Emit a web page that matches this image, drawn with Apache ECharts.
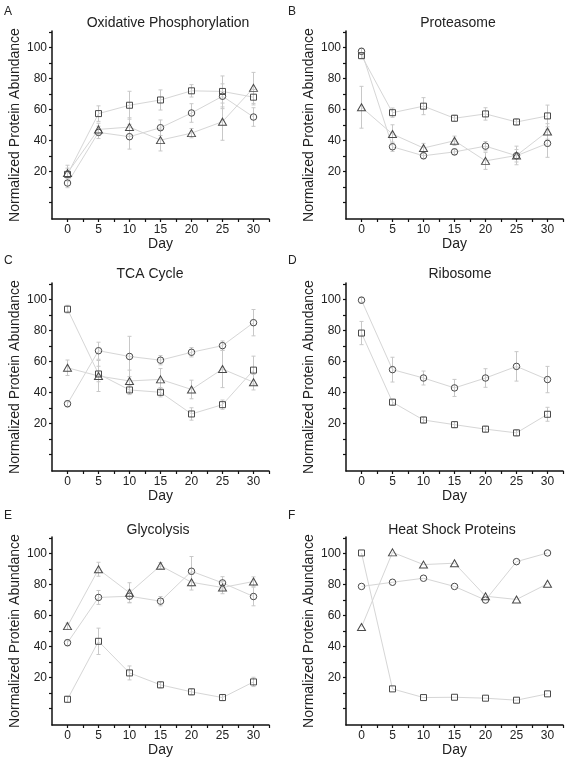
<!DOCTYPE html>
<html>
<head>
<meta charset="utf-8">
<script src="https://cdn.jsdelivr.net/npm/echarts@6/dist/echarts.min.js"></script>
<style>
html,body{margin:0;padding:0;background:#fff;}
#chart{width:569px;height:763px;}
</style>
</head>
<body>
<div id="chart"></div>
<script>
// ---- data ----
var days = [0, 5, 10, 15, 20, 25, 30];
var dayLabels = [0, 5, 10, 15, 20, 25, 30];
var dayTicks = [0, 2.5, 5, 7.5, 10, 12.5, 15, 17.5, 20, 22.5, 25, 27.5, 30, 32.5];
var yLabels = [20, 40, 60, 80, 100];
var yTicks = [0, 10, 20, 30, 40, 50, 60, 70, 80, 90, 100, 110];
var panelTitles = ['Oxidative Phosphorylation', 'Proteasome', 'TCA Cycle', 'Ribosome', 'Glycolysis', 'Heat Shock Proteins'];
var panelLetters = ['A', 'B', 'C', 'D', 'E', 'F'];
var xAxisName = 'Day';
var yAxisName = 'Normalized Protein Abundance';

// A: Oxidative Phosphorylation
var oxSquare = [18, 57.2, 62.6, 66, 71.9, 71.5, 67.8];
var oxSquareErr = [4, 5, 9, 6.5, 4, 10, 5];
var oxCircle = [12.4, 45.1, 42.3, 48.1, 57.6, 68.4, 55];
var oxCircleErr = [3, 4, 8, 5, 6, 8, 6];
var oxTriangle = [18.9, 47, 48.5, 40.1, 44.6, 52, 73.8];
var oxTriangleErr = [5, 4, 6, 7, 3, 12, 10];
// B: Proteasome
var prSquare = [94.6, 57.8, 62, 54.2, 57, 51.8, 55.7];
var prSquareErr = [2, 3, 5.5, 2, 4, 2, 7];
var prCircle = [97.4, 35.8, 30, 32.5, 36.2, 30, 38];
var prCircleErr = [2, 3, 2, 2, 3, 4, 9];
var prTriangle = [61.3, 44, 35, 39.7, 26.7, 30.2, 45.7];
var prTriangleErr = [13.5, 6, 3, 3, 5.5, 6, 5];
// C: TCA Cycle
var tcSquare = [93.6, 51.8, 41.5, 40, 26, 32, 54.3];
var tcSquareErr = [2.5, 5, 3, 3, 4, 3, 9];
var tcCircle = [32.6, 66.8, 63.1, 60.7, 65.8, 70.1, 84.9];
var tcCircleErr = [2, 5.5, 13, 3, 3, 3, 8.5];
var tcTriangle = [55.8, 50.5, 47.3, 48.3, 41.8, 55, 46.5];
var tcTriangleErr = [5, 10, 7, 7, 6, 12, 5];
// D: Ribosome
var riCircle = [99.4, 54.6, 49.2, 42.8, 49.2, 56.7, 48.2];
var riCircleErr = [2, 8, 4.5, 5.5, 6, 9.5, 8.5];
var riSquare = [78.2, 33.6, 22.1, 19.1, 16.2, 13.8, 25.8];
var riSquareErr = [7.5, 2, 2, 2, 2, 2, 4.5];
// E: Glycolysis
var glSquare = [5.8, 43.2, 22.8, 15.1, 10.6, 6.9, 17];
var glSquareErr = [2, 8.5, 4.5, 2, 2, 2, 3];
var glCircle = [42.3, 71.5, 72.3, 69.1, 88.4, 80.9, 72.1];
var glCircleErr = [2, 4.5, 4, 3, 9.5, 4, 6];
var glTriangle = [53, 89.7, 74.5, 92, 81.3, 77.9, 81.8];
var glTriangleErr = [2, 4.5, 6.5, 2, 5, 4, 3];
// F: Heat Shock Proteins
var hsSquare = [100.2, 12.5, 6.9, 7.1, 6.5, 5.2, 9.3];
var hsSquareErr = [0, 0, 0, 0, 0, 0, 0];
var hsCircle = [78.6, 81.3, 83.9, 78.6, 69.8, 94.6, 100.2];
var hsCircleErr = [0, 0, 0, 0, 0, 0, 0];
var hsTriangle = [52.4, 100.6, 92.7, 93.6, 72.3, 70.2, 80.3];
var hsTriangleErr = [0, 0, 0, 0, 0, 0, 0];

var panels = [
  [['rect', oxSquare, oxSquareErr], ['circle', oxCircle, oxCircleErr], ['triangle', oxTriangle, oxTriangleErr]],
  [['rect', prSquare, prSquareErr], ['circle', prCircle, prCircleErr], ['triangle', prTriangle, prTriangleErr]],
  [['rect', tcSquare, tcSquareErr], ['circle', tcCircle, tcCircleErr], ['triangle', tcTriangle, tcTriangleErr]],
  [['rect', riSquare, riSquareErr], ['circle', riCircle, riCircleErr]],
  [['rect', glSquare, glSquareErr], ['circle', glCircle, glCircleErr], ['triangle', glTriangle, glTriangleErr]],
  [['rect', hsSquare, hsSquareErr], ['circle', hsCircle, hsCircleErr], ['triangle', hsTriangle, hsTriangleErr]]
];

// ---- layout ----
var FONT = '"Liberation Sans", Arial, sans-serif';
var colLeft = [52, 346];
var rowTop = [31, 283, 537];
var gridW = 217, gridH = 188;
var titleCenters = [[168, 25], [458, 25], [150, 276], [460, 276], [158, 532], [452, 532]];
var letterPos = [[4, 6], [288, 6], [4, 255], [288, 255], [4, 510], [288, 510]];
var dayGaps = [20, 20, 25, 25, 25, 25];

var grids = [], xAxes = [], yAxes = [], series = [], titles = [];
for (var p = 0; p < 6; p++) {
  var col = p % 2, row = Math.floor(p / 2);
  grids.push({left: colLeft[col], top: rowTop[row], width: gridW, height: gridH, containLabel: false});
  xAxes.push({
    type: 'value', gridIndex: p, min: -2.5, max: 32.5,
    name: xAxisName, nameLocation: 'middle', nameGap: dayGaps[p],
    nameTextStyle: {fontFamily: FONT, fontSize: 14, color: '#222', verticalAlign: 'middle'},
    axisLine: {show: true, onZero: false, lineStyle: {color: '#111', width: 1.5}},
    axisTick: {show: true, inside: false, length: 3, customValues: dayTicks, lineStyle: {color: '#111', width: 1.2}},
    axisLabel: {show: true, customValues: dayLabels, margin: 5, fontFamily: FONT, fontSize: 12, color: '#222'},
    splitLine: {show: false}
  });
  yAxes.push({
    type: 'value', gridIndex: p, min: -10.8, max: 110.5,
    name: yAxisName, nameLocation: 'middle', nameGap: 37, nameRotate: 90,
    nameTextStyle: {fontFamily: FONT, fontSize: 14, color: '#222', verticalAlign: 'middle'},
    axisLine: {show: true, onZero: false, lineStyle: {color: '#111', width: 1.5}},
    axisTick: {show: true, inside: false, length: 3, customValues: yTicks, lineStyle: {color: '#111', width: 1.2}},
    axisLabel: {show: true, customValues: yLabels, margin: 5, fontFamily: FONT, fontSize: 12, color: '#222'},
    splitLine: {show: false}
  });
  titles.push({
    text: panelTitles[p], left: titleCenters[p][0], top: titleCenters[p][1] - 9, textAlign: 'center',
    textStyle: {fontFamily: FONT, fontSize: 14, fontWeight: 'normal', color: '#222'}, padding: 0
  });
  titles.push({
    text: panelLetters[p], left: letterPos[p][0], top: letterPos[p][1],
    textStyle: {fontFamily: FONT, fontSize: 12, fontWeight: 'normal', color: '#222'}, padding: 0
  });

  panels[p].forEach(function (s) {
    var sym = s[0], vals = s[1], errs = s[2];
    var lineData = days.map(function (d, i) { return [d, vals[i]]; });
    var errData = days.map(function (d, i) { return [d, vals[i], errs[i]]; });
    series.push({
      type: 'custom', xAxisIndex: p, yAxisIndex: p, z: 1, silent: true,
      encode: {x: 0, y: 1},
      data: errData,
      renderItem: function (params, api) {
        var x = api.value(0), y = api.value(1), e = api.value(2);
        if (!e) return null;
        var t = api.coord([x, y + e]), b = api.coord([x, y - e]);
        var st = {stroke: '#c8c8c8', lineWidth: 1};
        return {type: 'group', children: [
          {type: 'line', shape: {x1: t[0], y1: t[1], x2: b[0], y2: b[1]}, style: st},
          {type: 'line', shape: {x1: t[0] - 2, y1: t[1], x2: t[0] + 2, y2: t[1]}, style: st},
          {type: 'line', shape: {x1: b[0] - 2, y1: b[1], x2: b[0] + 2, y2: b[1]}, style: st}
        ]};
      }
    });
    series.push({
      type: 'line', xAxisIndex: p, yAxisIndex: p, z: 2, silent: true,
      data: lineData,
      symbol: sym,
      symbolSize: sym === 'triangle' ? [8, 7] : (sym === 'rect' ? 6 : 6.5),
      showAllSymbol: true,
      lineStyle: {color: '#d6d6d6', width: 1},
      itemStyle: {color: 'rgba(0,0,0,0)', borderColor: '#4a4a4a', borderWidth: 1},
      animation: false
    });
  });
}

var chart = echarts.init(document.getElementById('chart'), null, {renderer: 'canvas'});
chart.setOption({
  backgroundColor: '#fff',
  animation: false,
  title: titles,
  grid: grids,
  xAxis: xAxes,
  yAxis: yAxes,
  series: series
});
</script>
</body>
</html>
